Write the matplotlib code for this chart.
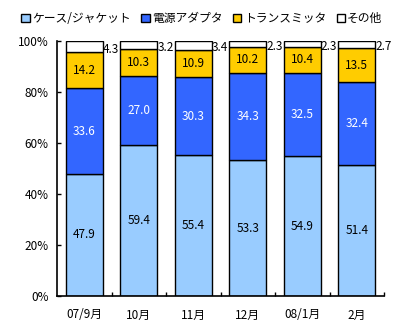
import matplotlib
matplotlib.use("Agg")
import matplotlib.pyplot as plt
import numpy as np

plt.rcParams['font.family'] = ['Noto Sans CJK JP', 'DejaVu Sans']

categories = ["07/9月", "10月", "11月", "12月", "08/1月", "2月"]
series_names = ["ケース/ジャケット", "電源アダプタ", "トランスミッタ", "その他"]
case_jacket = [47.9, 59.4, 55.4, 53.3, 54.9, 51.4]
power_adapter = [33.6, 27.0, 30.3, 34.3, 32.5, 32.4]
transmitter = [14.2, 10.3, 10.9, 10.2, 10.4, 13.5]
other = [4.3, 3.2, 3.4, 2.3, 2.3, 2.7]

colors = ["#99CCFF", "#3366FF", "#FFCC00", "#FFFFFF"]
text_colors = ["black", "white", "black", "black"]

fig = plt.figure(figsize=(4.0, 3.3), dpi=100)
ax = fig.add_axes([57/400, 1 - 296/330, (384-57)/400, (296-41)/330])

x = np.arange(len(categories))
data = [case_jacket, power_adapter, transmitter, other]
bottom = np.zeros(len(categories))
handles = []
for i, (vals, c, name) in enumerate(zip(data, colors, series_names)):
    vals = np.array(vals)
    b = ax.bar(x, vals, bottom=bottom, width=0.68, color=c, edgecolor="black",
               linewidth=1.0, label=name)
    handles.append(b)
    for xi, v, bt in zip(x, vals, bottom):
        if i < 3:
            ax.text(xi, bt + v / 2, f"{v:.1f}", ha="center", va="center",
                    fontsize=8.5, color=text_colors[i])
        else:
            ax.text(xi + 0.34, bt + v / 2 - 1.0, f"{v:.1f}", ha="left", va="center",
                    fontsize=8.5, color="black")
    bottom = bottom + vals

ax.set_xlim(-0.5, len(categories) - 0.5)
ax.set_ylim(0, 100)
ax.set_yticks(np.arange(0, 101, 20))
ax.set_yticklabels([f"{v}%" for v in range(0, 101, 20)], fontsize=8.5)
ax.set_xticks(x)
ax.set_xticklabels(categories, fontsize=8.5)
ax.tick_params(axis="x", length=0, pad=9)
ax.set_xticks(np.arange(0.5, len(categories), 1), minor=True)
ax.tick_params(axis="x", which="minor", direction="in", length=3, width=1)
ax.tick_params(axis="y", direction="in", length=3, width=1, pad=6)
ax.spines["top"].set_visible(False)
ax.spines["right"].set_visible(False)
for s in ["left", "bottom"]:
    ax.spines[s].set_linewidth(1.2)

leg = fig.legend(handles=handles, labels=series_names, loc="upper center",
                 bbox_to_anchor=(0.505, 0.985), ncol=4, frameon=False, fontsize=8.5,
                 handlelength=0.7, handleheight=0.7, handletextpad=0.2,
                 columnspacing=0.9, borderaxespad=0.2)

fig.savefig("out.png", dpi=100)
